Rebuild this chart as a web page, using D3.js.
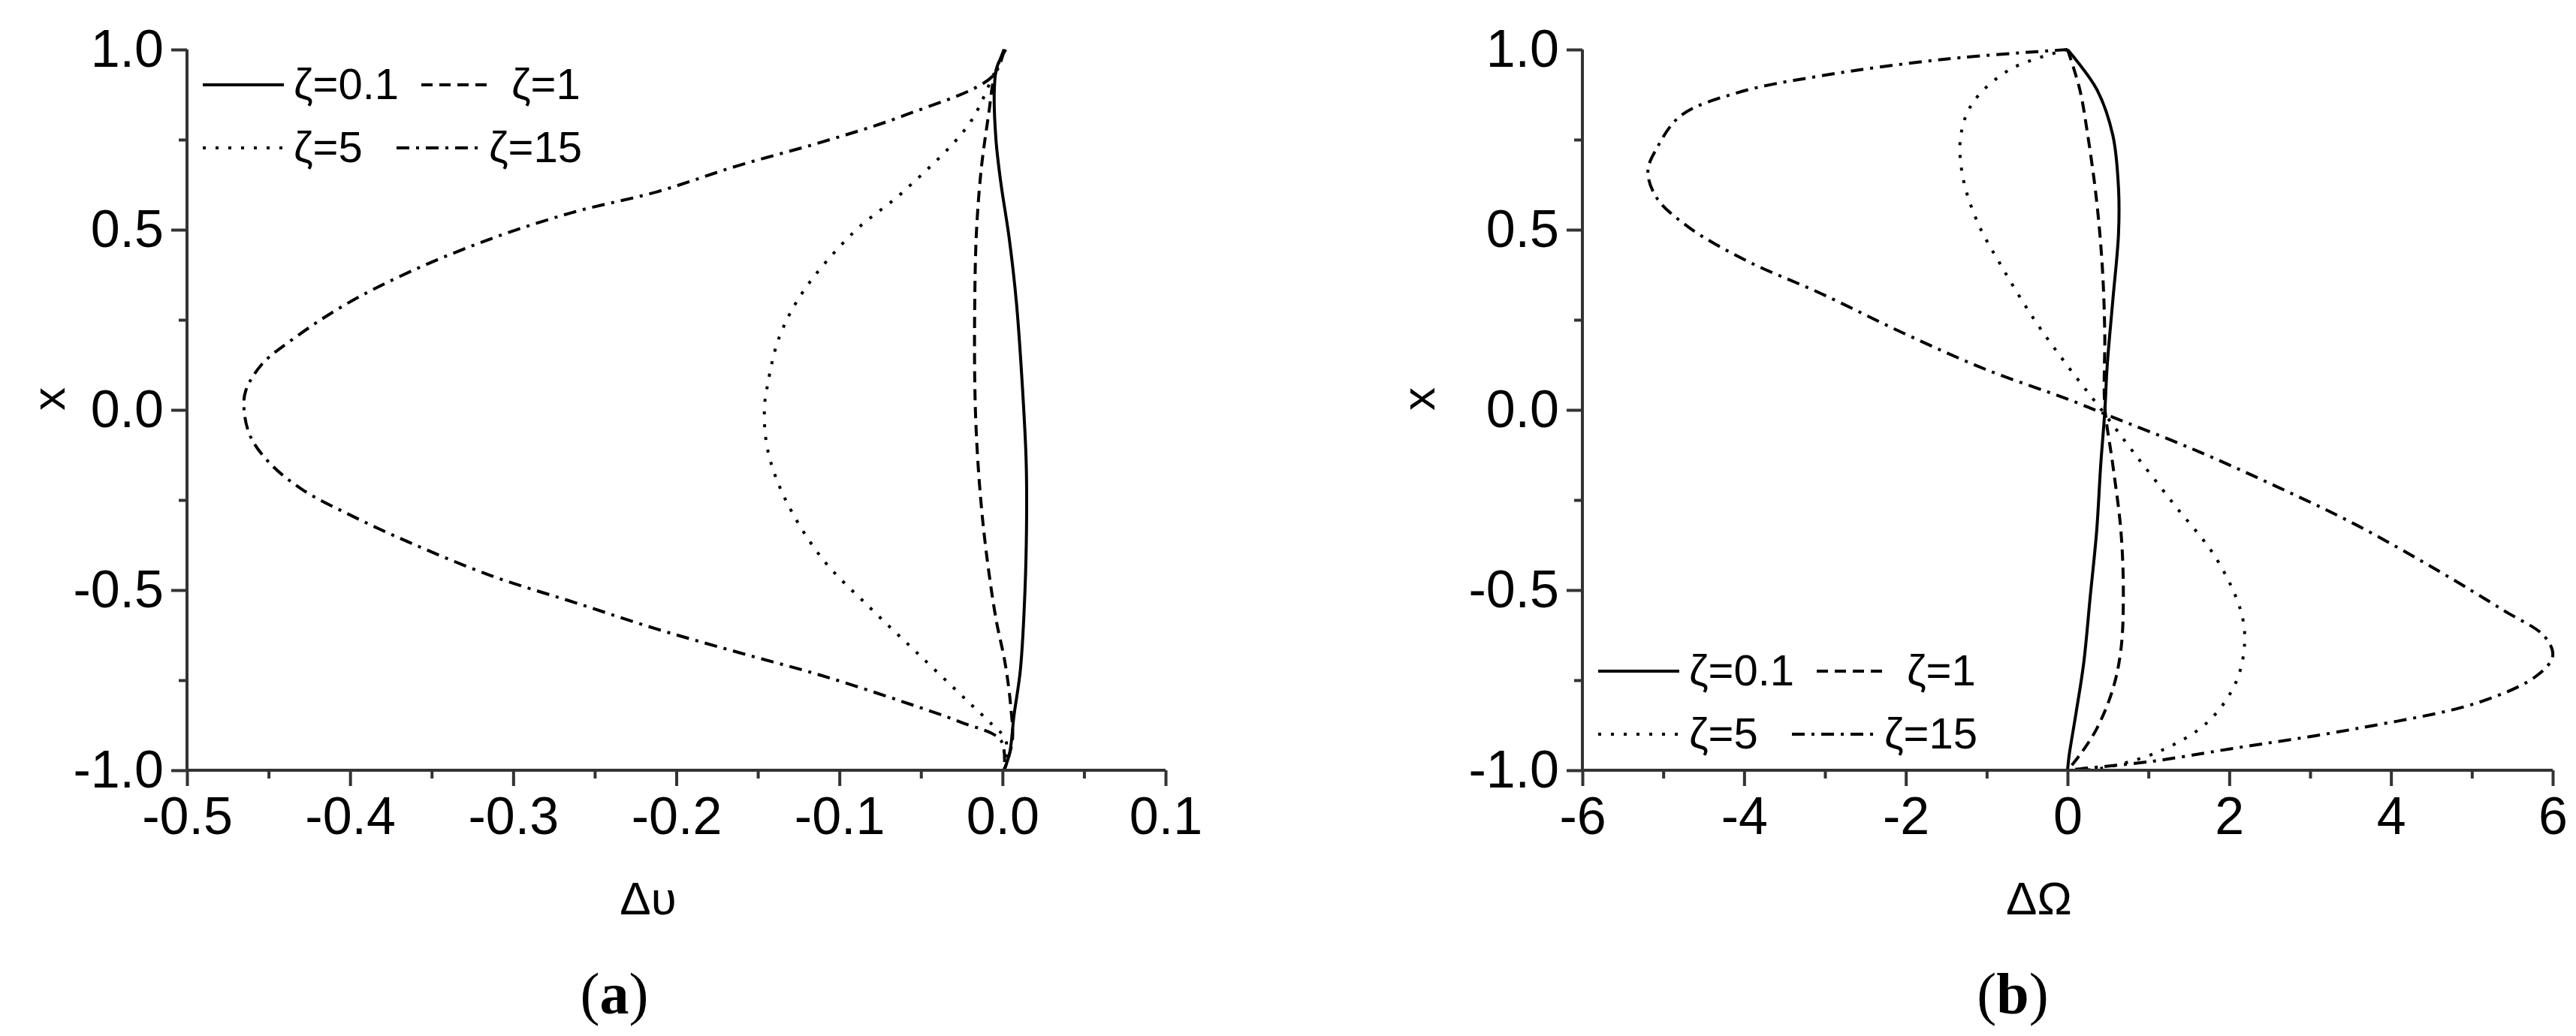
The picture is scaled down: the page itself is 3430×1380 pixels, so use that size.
<!DOCTYPE html>
<html>
<head>
<meta charset="utf-8">
<script src="https://cdn.jsdelivr.net/npm/d3@7"></script>
<style>
html,body{margin:0;padding:0;background:#fff;}
svg{display:block;}
</style>
</head>
<body>
<svg id="chart" width="3430" height="1380"></svg>
<script>
// ---------- DATA ----------
const seriesLabels = ["ζ=0.1", "ζ=1", "ζ=5", "ζ=15"];
const yTicks = [-1.0, -0.5, 0.0, 0.5, 1.0];
const yMinorTicks = [-0.75, -0.25, 0.25, 0.75];
const aXTicks = [-0.5, -0.4, -0.3, -0.2, -0.1, 0.0, 0.1];
const aXMinorTicks = [-0.45, -0.35, -0.25, -0.15, -0.05, 0.05];
const bXTicks = [-6, -4, -2, 0, 2, 4, 6];
const bXMinorTicks = [-5, -3, -1, 1, 3, 5];

// panel (a): [Δυ, x]
const aZeta01 = [[0.002,1.0],[-0.0035,0.95],[-0.005,0.89],[-0.004,0.75],[-0.001,0.63],[0.004,0.48],[0.0085,0.30],[0.012,0.08],[0.0145,-0.14],[0.0148,-0.29],[0.0138,-0.5],[0.011,-0.72],[0.007,-0.85],[0.0045,-0.95],[0.001,-1.0]];
const aZeta1 = [[0.001,1.0],[-0.005,0.925],[-0.0085,0.82],[-0.013,0.67],[-0.016,0.49],[-0.017,0.3],[-0.017,0.08],[-0.016,-0.07],[-0.0135,-0.24],[-0.0098,-0.4],[-0.004,-0.58],[0.0015,-0.7],[0.005,-0.82],[0.006,-0.92],[0.001,-1.0]];
const aZeta5 = [[0.001,1.0],[-0.006,0.925],[-0.021,0.79],[-0.061,0.605],[-0.091,0.494],[-0.122,0.33],[-0.137,0.2],[-0.144,0.07],[-0.146,0.0],[-0.144,-0.11],[-0.134,-0.24],[-0.111,-0.41],[-0.081,-0.55],[-0.051,-0.68],[-0.021,-0.81],[-0.006,-0.875],[0.002,-0.915],[0.001,-1.0]];
const aZeta15 = [[0.001,1.0],[-0.006,0.926],[-0.061,0.816],[-0.111,0.743],[-0.162,0.678],[-0.212,0.605],[-0.262,0.55],[-0.313,0.476],[-0.363,0.384],[-0.403,0.292],[-0.434,0.2],[-0.454,0.127],[-0.464,0.053],[-0.465,0.0],[-0.461,-0.075],[-0.449,-0.149],[-0.429,-0.222],[-0.398,-0.296],[-0.363,-0.369],[-0.313,-0.461],[-0.262,-0.535],[-0.212,-0.608],[-0.162,-0.673],[-0.111,-0.737],[-0.061,-0.81],[-0.026,-0.866],[-0.001,-0.917],[0.001,-1.0]];

// panel (b): [ΔΩ, x]
const bZeta01 = [[0,1.0],[0.36,0.89],[0.56,0.762],[0.63,0.616],[0.63,0.488],[0.56,0.305],[0.49,0.122],[0.46,-0.006],[0.41,-0.153],[0.36,-0.336],[0.28,-0.519],[0.2,-0.702],[0.1,-0.848],[0.02,-0.958],[0,-1.0]];
const bZeta1 = [[0,1.0],[0.15,0.89],[0.25,0.762],[0.36,0.579],[0.43,0.396],[0.46,0.213],[0.46,0.012],[0.56,-0.153],[0.66,-0.336],[0.69,-0.519],[0.66,-0.665],[0.56,-0.775],[0.36,-0.885],[0.15,-0.958],[0,-1.0]];
const bZeta5 = [[0,1.0],[-0.71,0.945],[-1.17,0.853],[-1.32,0.762],[-1.30,0.652],[-1.12,0.524],[-0.81,0.396],[-0.41,0.25],[0,0.122],[0.41,0.003],[0.81,-0.116],[1.32,-0.263],[1.83,-0.409],[2.14,-0.556],[2.19,-0.647],[2.08,-0.757],[1.73,-0.867],[1.12,-0.949],[0.41,-0.995],[0.1,-1.0]];
const bZeta15 = [[0,1.0],[-1.53,0.973],[-3.05,0.927],[-4.07,0.881],[-4.78,0.817],[-5.08,0.726],[-5.19,0.662],[-5.08,0.588],[-4.68,0.506],[-3.97,0.414],[-3.05,0.323],[-2.03,0.213],[-1.02,0.113],[0,0.03],[0.51,-0.016],[1.53,-0.107],[2.54,-0.208],[3.56,-0.318],[4.58,-0.446],[5.39,-0.556],[5.9,-0.629],[6.0,-0.683],[5.8,-0.738],[5.08,-0.812],[3.56,-0.885],[2.03,-0.94],[1.02,-0.976],[0.2,-0.995],[0,-1.0]];

// ---------- STYLE ----------
const dashes = [null, "15,9", "4,13", "17,9,4,9"];
const FONT = "'Liberation Sans', Arial, sans-serif";
const svg = d3.select("#chart");
const hyphen = f => d => f(d).replace("\u2212", "-");

function panel(cfg) {
  const x = d3.scaleLinear().domain(cfg.xDomain).range([cfg.left, cfg.right]);
  const y = d3.scaleLinear().domain([-1, 1]).range([cfg.bottom, cfg.top]);
  const g = svg.append("g");

  // curves
  const line = d3.line().x(d => x(d[0])).y(d => y(d[1])).curve(d3.curveCatmullRom.alpha(0.5));
  cfg.series.forEach((s, i) => {
    g.append("path").datum(s).attr("d", line)
      .attr("fill", "none").attr("stroke", "#000").attr("stroke-width", 4)
      .attr("stroke-dasharray", dashes[i]);
  });

  // x axis
  const xAxis = d3.axisBottom(x).tickValues(cfg.xTicks).tickSize(21).tickPadding(14)
    .tickFormat(hyphen(cfg.xFormat));
  const xg = g.append("g").attr("transform", `translate(0,${cfg.bottom})`).call(xAxis);
  const xMinor = d3.axisBottom(x).tickValues(cfg.xMinor).tickSize(11).tickFormat("");
  const xmg = g.append("g").attr("transform", `translate(0,${cfg.bottom})`).call(xMinor);
  xmg.select(".domain").remove();

  // y axis
  const yAxis = d3.axisLeft(y).tickValues(yTicks).tickSize(21).tickPadding(10)
    .tickFormat(hyphen(d3.format(".1f")));
  const yg = g.append("g").attr("transform", `translate(${cfg.left},0)`).call(yAxis);
  const yMinor = d3.axisLeft(y).tickValues(yMinorTicks).tickSize(11).tickFormat("");
  const ymg = g.append("g").attr("transform", `translate(${cfg.left},0)`).call(yMinor);
  ymg.select(".domain").remove();

  [xg, yg, xmg, ymg].forEach(a => {
    a.selectAll("path.domain").attr("stroke", "#333").attr("stroke-width", 4);
    a.selectAll(".tick line").attr("stroke", "#333").attr("stroke-width", 4);
    a.selectAll(".tick text").attr("font-family", FONT).attr("font-size", 70).attr("fill", "#000");
  });
  xg.select("path.domain").attr("d", `M${cfg.left},0H${cfg.right}`);
  yg.select("path.domain").attr("d", `M0,${cfg.bottom}V${cfg.top}`);

  // axis titles
  g.append("text").attr("x", cfg.xTitleX).attr("y", 1218)
    .attr("text-anchor", "middle").attr("font-family", FONT).attr("font-size", 62)
    .text(cfg.xTitle);
  g.append("text").attr("transform", `translate(${cfg.yTitleX},${y(0.03)}) rotate(-90)`)
    .attr("text-anchor", "middle").attr("font-family", FONT).attr("font-size", 62)
    .text("x");

  // panel tag
  const tag = g.append("text").attr("x", cfg.tagX).attr("y", 1350)
    .attr("text-anchor", "middle").attr("font-family", "'Liberation Serif', 'Times New Roman', serif")
    .attr("font-size", 78);
  tag.append("tspan").text("(");
  tag.append("tspan").attr("font-weight", "bold").text(cfg.tag);
  tag.append("tspan").text(")");

  // legend
  const ly = [cfg.legendY, cfg.legendY + 84];
  const entries = [
    {i: 0, row: 0, x0: 21, x1: 129, tx: 142},
    {i: 1, row: 0, x0: 312, x1: 399, tx: 432},
    {i: 2, row: 1, x0: 21, x1: 129, tx: 142},
    {i: 3, row: 1, x0: 279, x1: 389, tx: 402}
  ];
  entries.forEach(e => {
    const yy = ly[e.row];
    g.append("line").attr("x1", cfg.left + e.x0).attr("x2", cfg.left + e.x1)
      .attr("y1", yy).attr("y2", yy).attr("stroke", "#000").attr("stroke-width", 4)
      .attr("stroke-dasharray", dashes[e.i]);
    g.append("text").attr("x", cfg.left + e.tx).attr("y", yy + 19)
      .attr("font-family", FONT).attr("font-size", 58).text(seriesLabels[e.i]);
  });
}

panel({
  left: 249, right: 1552, top: 66, bottom: 1026,
  xDomain: [-0.5, 0.1], xTicks: aXTicks, xMinor: aXMinorTicks, xFormat: d3.format(".1f"),
  series: [aZeta01, aZeta1, aZeta5, aZeta15],
  xTitle: "Δυ", xTitleX: 863, tag: "a", tagX: 818, legendY: 113, yTitleX: 86
});

panel({
  left: 2107, right: 3399, top: 66, bottom: 1026,
  xDomain: [-6, 6], xTicks: bXTicks, xMinor: bXMinorTicks, xFormat: d3.format("d"),
  series: [bZeta01, bZeta1, bZeta5, bZeta15],
  xTitle: "ΔΩ", xTitleX: 2715, tag: "b", tagX: 2680, legendY: 894, yTitleX: 1910
});
</script>
</body>
</html>
